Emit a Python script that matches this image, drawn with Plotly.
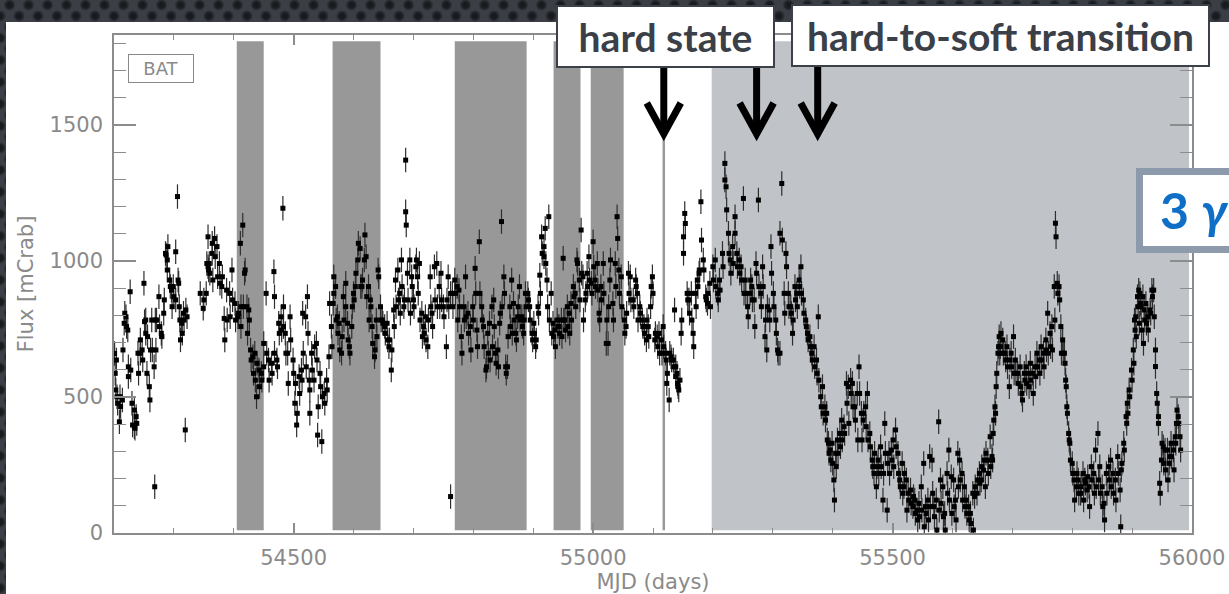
import base64
import plotly.graph_objects as go

# ---------------- Swift/BAT daily light curve (MJD, flux in mCrab) ----------------
lc_2007_2008 = [
    (54201, 660), (54202, 587), (54203, 526), (54204, 636), (54205, 501), (54206, 477),
    (54209, 409), (54210, 501), (54211, 465), (54214, 489), (54215, 673), (54217, 771),
    (54218, 808), (54220, 795), (54221, 759), (54223, 746), (54224, 611), (54224, 575),
    (54227, 887), (54228, 599), (54230, 477), (54231, 397), (54234, 452), (54234, 391),
    (54235, 385), (54237, 428), (54238, 403), (54240, 661), (54241, 587), (54244, 710),
    (54244, 661), (54247, 673), (54248, 636), (54250, 918), (54251, 777), (54253, 783),
    (54253, 734), (54255, 587), (54256, 722), (54259, 538), (54260, 489), (54261, 673),
    (54263, 783), (54264, 673), (54268, 170), (54267, 611), (54269, 783), (54270, 673),
    (54271, 783), (54275, 869), (54276, 759), (54279, 734), (54280, 722), (54283, 808),
    (54284, 857), (54286, 1028), (54287, 1022), (54289, 1004), (54289, 967), (54290, 1053),
    (54293, 930), (54294, 906), (54296, 893), (54297, 832), (54299, 906), (54300, 869),
    (54303, 1034), (54303, 857), (54306, 1237), (54307, 930), (54308, 918), (54309, 832),
    (54310, 783), (54311, 710), (54313, 771), (54314, 734), (54316, 808), (54317, 783),
    (54319, 379), (54320, 820), (54322, 795), (54344, 881), (54349, 826), (54350, 857),
    (54354, 881), (54355, 991), (54357, 1089), (54357, 979), (54358, 967), (54359, 991),
    (54360, 955), (54364, 1028), (54364, 1065), (54365, 930), (54368, 1083), (54369, 1016),
    (54372, 1053), (54373, 942), (54376, 991), (54377, 918), (54380, 906), (54381, 942),
    (54384, 789), (54385, 710), (54388, 893), (54389, 783), (54393, 881), (54394, 795),
    (54397, 967), (54398, 857), (54402, 844), (54403, 783), (54407, 795), (54408, 808),
    (54411, 1065), (54412, 832), (54412, 759), (54415, 1132), (54416, 832), (54418, 955),
    (54419, 967), (54422, 832), (54423, 734), (54425, 820), (54426, 783), (54428, 673),
    (54429, 636), (54432, 648), (54433, 587), (54435, 661), (54436, 562), (54438, 501),
    (54439, 624), (54442, 599), (54443, 538), (54446, 587), (54447, 562), (54450, 697),
    (54450, 611), (54454, 881), (54455, 661), (54458, 636), (54459, 562), (54463, 624),
    (54464, 587), (54467, 961), (54468, 869), (54468, 661), (54472, 636), (54473, 611),
    (54475, 771), (54476, 734), (54479, 795), (54480, 746), (54482, 1194), (54483, 832),
    (54483, 759), (54486, 734), (54487, 661), (54490, 661), (54491, 550), (54494, 795),
    (54495, 710), (54499, 636), (54500, 587), (54502, 477), (54503, 550), (54505, 397),
    (54506, 440), (54509, 575), (54510, 513), (54513, 599), (54514, 562), (54515, 808),
    (54516, 661), (54520, 795), (54521, 611), (54523, 869), (54524, 734), (54526, 562),
    (54527, 526), (54527, 440), (54530, 661), (54531, 599), (54534, 562), (54535, 685),
    (54538, 697), (54539, 636), (54540, 360), (54541, 464), (54544, 587), (54545, 538),
    (54547, 336), (54548, 501), (54551, 513), (54552, 477), (54555, 562), (54556, 526),
    (54559, 648), (54560, 844), (54563, 759), (54564, 685), (54566, 844), (54567, 942),
    (54567, 881), (54570, 906), (54571, 783), (54573, 795), (54574, 734), (54576, 771),
    (54577, 673), (54580, 661), (54581, 722), (54583, 869), (54584, 783), (54587, 918),
    (54587, 832), (54590, 771), (54591, 710), (54593, 685), (54594, 661), (54597, 759),
    (54598, 832), (54600, 881), (54601, 857), (54603, 906), (54604, 955), (54607, 1004),
    (54608, 1065), (54611, 1046), (54612, 906), (54614, 906), (54615, 930), (54618, 1004),
    (54619, 1096), (54621, 1016), (54622, 869), (54625, 906), (54626, 783), (54628, 857),
    (54629, 832), (54631, 759), (54632, 697), (54635, 648), (54636, 673), (54638, 783),
    (54639, 722), (54641, 967), (54642, 942), (54645, 832), (54646, 783), (54648, 783),
    (54649, 771), (54652, 759), (54653, 734), (54656, 771), (54657, 710), (54659, 685),
    (54660, 710), (54663, 599), (54664, 673), (54667, 820), (54668, 759), (54670, 930),
    (54671, 832), (54674, 967), (54675, 857), (54677, 881), (54678, 808), (54680, 1004),
    (54681, 906), (54684, 832), (54685, 857), (54687, 1371), (54687, 1181), (54688, 1132),
    (54690, 955), (54691, 857), (54694, 1004), (54695, 808), (54697, 942), (54698, 906),
]

lc_2008_2009 = [
    (54700, 857), (54701, 832), (54704, 979), (54705, 1004), (54707, 942), (54708, 881),
    (54710, 991), (54711, 783), (54714, 808), (54715, 722), (54717, 759), (54718, 734),
    (54720, 795), (54721, 710), (54724, 685), (54725, 783), (54728, 942), (54729, 832),
    (54731, 808), (54732, 759), (54735, 979), (54736, 857), (54739, 991), (54740, 832),
    (54743, 906), (54744, 832), (54746, 955), (54747, 857), (54750, 832), (54751, 795),
    (54755, 685), (54756, 857), (54758, 942), (54759, 832), (54762, 134), (54762, 881),
    (54765, 881), (54766, 832), (54769, 930), (54770, 881), (54773, 906), (54774, 783),
    (54776, 893), (54777, 832), (54780, 722), (54781, 661), (54784, 832), (54785, 783),
    (54787, 942), (54788, 795), (54791, 808), (54792, 734), (54795, 759), (54796, 673),
    (54799, 832), (54800, 783), (54803, 973), (54804, 881), (54806, 746), (54807, 685),
    (54810, 1071), (54811, 881), (54814, 832), (54815, 783), (54817, 759), (54818, 685),
    (54821, 599), (54822, 611), (54824, 734), (54825, 661), (54827, 771), (54828, 636),
    (54831, 832), (54832, 685), (54834, 857), (54835, 759), (54837, 661), (54838, 624),
    (54841, 673), (54842, 611), (54844, 771), (54845, 808), (54847, 1145), (54848, 832),
    (54851, 942), (54852, 881), (54854, 611), (54855, 587), (54857, 611), (54858, 722),
    (54861, 832), (54862, 759), (54864, 930), (54865, 734), (54867, 844), (54868, 783),
    (54871, 734), (54872, 710), (54874, 795), (54875, 832), (54877, 906), (54878, 783),
    (54881, 795), (54882, 759), (54884, 734), (54885, 783), (54887, 881), (54888, 832),
    (54891, 881), (54892, 857), (54894, 832), (54895, 783), (54898, 734), (54899, 710),
    (54901, 771), (54902, 734), (54904, 685), (54905, 710), (54908, 832), (54909, 808),
    (54911, 948), (54912, 881), (54914, 1089), (54915, 1028), (54918, 1016), (54918, 1053),
    (54920, 1120), (54921, 991), (54923, 930), (54924, 832), (54926, 1163), (54927, 783),
    (54930, 881), (54931, 734), (54933, 771), (54934, 722), (54936, 746), (54937, 685),
    (54940, 783), (54941, 759), (54943, 759), (54944, 734), (54947, 783), (54948, 722),
    (54950, 1010), (54951, 783), (54953, 783), (54954, 746), (54957, 832), (54958, 759),
    (54960, 808), (54961, 734), (54963, 844), (54964, 783), (54967, 906), (54968, 869),
    (54970, 881), (54971, 832), (54973, 1004), (54974, 991), (54977, 930), (54978, 857),
    (54980, 1114), (54981, 955), (54983, 942), (54984, 783), (54987, 857), (54988, 881),
    (54990, 955), (54991, 906), (54993, 1016), (54994, 930), (54997, 918), (54998, 881),
    (55000, 1071), (55001, 979), (55003, 930), (55004, 906), (55007, 991), (55008, 893),
    (55010, 808), (55011, 783), (55013, 906), (55014, 857), (55017, 991), (55018, 881),
    (55022, 697), (55023, 783), (55025, 697), (55026, 832), (55028, 930), (55029, 1004),
    (55033, 844), (55034, 783), (55037, 991), (55038, 906), (55040, 1163), (55041, 1083),
    (55043, 967), (55044, 881), (55047, 942), (55048, 832), (55052, 783), (55053, 734),
    (55055, 759), (55056, 808), (55059, 955), (55060, 881), (55062, 942), (55063, 857),
    (55067, 857), (55068, 832), (55071, 930), (55072, 906), (55074, 881), (55075, 783),
    (55078, 832), (55079, 808), (55082, 783), (55083, 759), (55085, 759), (55086, 734),
    (55089, 710), (55090, 783), (55092, 759), (55093, 722), (55096, 832), (55097, 906),
    (55099, 942), (55100, 881), (55103, 710), (55104, 734), (55107, 722), (55108, 685),
    (55110, 734), (55111, 661), (55114, 710), (55115, 661), (55117, 759), (55118, 685),
    (55121, 661), (55122, 636), (55123, 550), (55124, 587), (55127, 489), (55128, 661),
    (55130, 648), (55131, 636), (55134, 636), (55135, 611), (55136, 820), (55138, 611),
    (55138, 575), (55140, 587), (55141, 550), (55142, 538), (55143, 526), (55145, 562),
    (55147, 734), (55148, 783), (55151, 1089), (55151, 1028), (55153, 1175), (55154, 1138),
    (55157, 881), (55158, 857), (55160, 857), (55161, 808), (55164, 881), (55165, 783),
    (55167, 734), (55168, 685), (55171, 881), (55172, 832), (55174, 930), (55175, 906),
    (55177, 955), (55178, 967), (55180, 1218), (55181, 1077), (55184, 1004), (55185, 967),
    (55188, 869), (55189, 857), (55191, 844), (55192, 881), (55195, 918), (55196, 832),
]

lc_2010 = [
    (55200, 979), (55201, 930), (55204, 1004), (55205, 906), (55208, 881), (55209, 857),
    (55211, 930), (55212, 893), (55216, 1028), (55217, 979), (55220, 1359), (55220, 1298),
    (55222, 1273), (55223, 1188), (55226, 1102), (55227, 1028), (55229, 1004), (55230, 955),
    (55233, 1053), (55234, 991), (55237, 1163), (55237, 1102), (55240, 1028), (55241, 979),
    (55244, 1004), (55245, 955), (55247, 979), (55248, 930), (55251, 1230), (55252, 881),
    (55254, 930), (55255, 881), (55258, 832), (55259, 795), (55262, 881), (55263, 930),
    (55265, 906), (55266, 857), (55269, 857), (55270, 759), (55272, 991), (55273, 955),
    (55276, 1224), (55277, 906), (55280, 881), (55281, 832), (55283, 979), (55284, 906),
    (55287, 722), (55288, 783), (55290, 673), (55291, 832), (55294, 820), (55295, 783),
    (55297, 1053), (55298, 955), (55301, 881), (55302, 832), (55305, 783), (55306, 734),
    (55308, 673), (55309, 661), (55312, 661), (55312, 1102), (55315, 1285), (55316, 1077),
    (55319, 881), (55320, 808), (55322, 1028), (55323, 979), (55326, 881), (55327, 832),
    (55330, 832), (55331, 808), (55333, 734), (55334, 783), (55337, 906), (55338, 857),
    (55340, 881), (55341, 832), (55344, 930), (55345, 906), (55347, 979), (55348, 881),
    (55351, 857), (55352, 808), (55355, 783), (55356, 759), (55358, 734), (55359, 710),
    (55362, 722), (55363, 685), (55365, 661), (55366, 636), (55369, 685), (55370, 611),
    (55373, 636), (55374, 587), (55376, 795), (55377, 562), (55380, 501), (55381, 464),
    (55383, 538), (55384, 440), (55387, 464), (55388, 415), (55390, 440), (55391, 342),
    (55393, 330), (55394, 293), (55396, 305), (55397, 268), (55399, 330), (55400, 256),
    (55402, 195), (55403, 121), (55405, 293), (55406, 244), (55408, 342), (55409, 293),
    (55412, 366), (55413, 317), (55415, 415), (55416, 342), (55419, 391), (55420, 366),
    (55423, 550), (55424, 477), (55426, 538), (55427, 403), (55430, 562), (55431, 513),
    (55433, 550), (55434, 464), (55437, 464), (55438, 415), (55441, 513), (55442, 342),
    (55444, 611), (55445, 513), (55448, 440), (55449, 342), (55451, 415), (55452, 440),
    (55455, 464), (55456, 391), (55458, 513), (55459, 342), (55462, 366), (55463, 317),
    (55466, 268), (55467, 244), (55469, 219), (55470, 293), (55473, 170), (55474, 244),
    (55476, 268), (55477, 219), (55480, 317), (55481, 244), (55484, 121), (55485, 219),
    (55487, 403), (55488, 293), (55491, 84), (55492, 256), (55494, 293), (55495, 219),
    (55498, 305), (55499, 268), (55501, 342), (55502, 244), (55505, 379), (55506, 317),
    (55509, 293), (55510, 219), (55512, 195), (55513, 170), (55516, 256), (55517, 146),
    (55519, 170), (55520, 219), (55523, 195), (55524, 84), (55526, 146), (55527, 121),
    (55530, 158), (55531, 109), (55534, 97), (55535, 134), (55537, 121), (55538, 72),
    (55541, 84), (55542, 48), (55544, 109), (55545, 60), (55548, 170), (55549, 84),
    (55552, 256), (55553, 23), (55555, 97), (55556, 72), (55559, 121), (55560, 48),
    (55562, 281), (55563, 97), (55566, 268), (55567, 146), (55569, 97), (55570, 60),
    (55573, 121), (55574, 11), (55577, 409), (55578, 84), (55580, 195), (55581, 109),
    (55584, 170), (55585, 60), (55587, 72), (55588, 11), (55591, 219), (55592, 146),
    (55594, 305), (55595, 121), (55598, 207), (55599, 72),
]

lc_2011_2012 = [
    (55602, 195), (55603, 97), (55605, 121), (55606, 48), (55609, 293), (55610, 170),
    (55612, 268), (55613, 195), (55616, 219), (55617, 121), (55620, 170), (55621, 97),
    (55623, 121), (55624, 72), (55627, 97), (55628, 48), (55630, 72), (55631, 35),
    (55634, 146), (55635, 11), (55637, 134), (55638, 170), (55641, 146), (55642, 195),
    (55645, 219), (55646, 183), (55648, 195), (55649, 244), (55652, 231), (55653, 268),
    (55655, 170), (55656, 293), (55659, 268), (55660, 219), (55663, 354), (55664, 244),
    (55666, 281), (55667, 268), (55668, 366), (55669, 415), (55671, 464), (55672, 440),
    (55673, 538), (55674, 587), (55676, 661), (55677, 685), (55678, 722), (55679, 661),
    (55680, 685), (55681, 734), (55684, 710), (55685, 661), (55688, 661), (55689, 636),
    (55691, 685), (55692, 611), (55695, 538), (55696, 636), (55698, 661), (55699, 611),
    (55702, 722), (55703, 587), (55705, 636), (55706, 587), (55709, 587), (55710, 550),
    (55713, 611), (55714, 538), (55716, 513), (55717, 489), (55720, 587), (55721, 562),
    (55723, 611), (55724, 550), (55727, 587), (55728, 538), (55730, 624), (55731, 562),
    (55734, 587), (55735, 513), (55738, 611), (55739, 575), (55741, 661), (55742, 611),
    (55745, 636), (55746, 587), (55748, 685), (55749, 636), (55752, 661), (55753, 611),
    (55756, 710), (55757, 673), (55759, 808), (55760, 661), (55763, 734), (55764, 685),
    (55766, 759), (55767, 673), (55770, 906), (55771, 783), (55772, 1139), (55773, 1089),
    (55775, 918), (55776, 881), (55778, 906), (55779, 857), (55781, 759), (55782, 661),
    (55784, 710), (55785, 661), (55787, 661), (55788, 624), (55789, 562), (55790, 538),
    (55791, 464), (55792, 440), (55794, 366), (55795, 342), (55796, 330), (55797, 268),
    (55800, 256), (55801, 219), (55803, 195), (55804, 121), (55807, 170), (55808, 219),
    (55810, 195), (55811, 146), (55814, 146), (55815, 170), (55818, 219), (55819, 121),
    (55821, 195), (55822, 183), (55825, 158), (55826, 207), (55828, 170), (55829, 97),
    (55832, 244), (55833, 195), (55836, 219), (55837, 146), (55839, 305), (55840, 170),
    (55843, 366), (55844, 195), (55846, 244), (55847, 146), (55850, 170), (55851, 97),
    (55853, 109), (55854, 48), (55857, 219), (55858, 146), (55861, 244), (55862, 195),
    (55864, 268), (55865, 170), (55868, 219), (55869, 146), (55872, 195), (55873, 121),
    (55876, 281), (55877, 219), (55880, 158), (55881, 23), (55882, 232), (55883, 256),
    (55886, 330), (55887, 305), (55890, 428), (55891, 403), (55892, 477), (55893, 440),
    (55895, 526), (55896, 501), (55899, 599), (55900, 562), (55902, 673), (55903, 624),
    (55904, 783), (55905, 746), (55906, 795), (55907, 722), (55909, 869), (55910, 832),
    (55911, 893), (55912, 771), (55913, 881), (55914, 844), (55915, 832), (55916, 746),
    (55918, 869), (55919, 697), (55920, 820), (55921, 783), (55923, 844), (55924, 771),
    (55926, 795), (55927, 746), (55930, 820), (55931, 808), (55933, 893), (55934, 869),
    (55936, 893), (55937, 795), (55939, 673), (55939, 612), (55941, 513), (55942, 477),
    (55944, 428), (55944, 403), (55946, 183), (55947, 146), (55949, 268), (55950, 330),
    (55952, 317), (55953, 256), (55955, 305), (55956, 232), (55959, 305), (55960, 195),
    (55962, 256), (55963, 281), (55965, 330), (55966, 281), (55969, 305), (55970, 232),
    (55972, 354), (55973, 330), (55974, 403), (55975, 452), (55977, 428), (55978, 403),
    (55980, 354), (55981, 305),
]

flux_error_mcrab = 45          # typical 1-sigma BAT error
time_bin_half_width = 2.2      # days

# Intervals with no simultaneous coverage (dark bands), hard-state epoch, soft-state window
gap_intervals = [(54405, 54450), (54565, 54645), (54769, 54889), (54934, 54979), (54996, 55051)]
hard_state_mjd = 55118
soft_window = (55198, 55995)
band_flux = (10, 1808)

arrow_mjd = [55118, 55273, 55375]

x_range = [54200, 56000]
y_range = [0, 1831]
x_tick_vals = [54500, 55000, 55500, 56000]
y_tick_vals = [0, 500, 1000, 1500]

# ---------------- figure ----------------
W, H = 1229, 594
ML, MR, MT, MB = 114, 37, 35, 61
PW, PH = W - ML - MR, H - MT - MB


def px_x(px):
    return (px - ML) / PW


def px_y(py):
    return (H - MB - py) / PH


segments = (lc_2007_2008, lc_2008_2009, lc_2010, lc_2011_2012)
mjd = [p[0] for seg in segments for p in seg]
flux = [p[1] for seg in segments for p in seg]

fig = go.Figure()
fig.add_trace(go.Scatter(
    x=mjd, y=flux, mode="markers", name="BAT",
    marker=dict(symbol="square", size=5, color="#000000", line=dict(width=0)),
    error_y=dict(type="constant", value=flux_error_mcrab, thickness=1.2, width=0, color="#2e2e2e"),
    error_x=dict(type="constant", value=time_bin_half_width, thickness=1.5, width=0, color="#111111"),
    showlegend=False, hoverinfo="x+y",
))

# slide background texture
pattern_svg = (
    "<svg xmlns='http://www.w3.org/2000/svg' width='1229' height='594'>"
    "<defs><radialGradient id='g'>"
    "<stop offset='0' stop-color='#15171a'/><stop offset='0.55' stop-color='#1c1f23'/>"
    "<stop offset='1' stop-color='#3b3e44'/></radialGradient>"
    "<pattern id='p' width='19' height='22' patternUnits='userSpaceOnUse'>"
    "<rect width='19' height='22' fill='#3b3e44'/>"
    "<circle cx='9.5' cy='5' r='6' fill='url(#g)'/>"
    "<circle cx='0' cy='16' r='6' fill='url(#g)'/><circle cx='19' cy='16' r='6' fill='url(#g)'/>"
    "</pattern></defs><rect width='1229' height='594' fill='url(#p)'/></svg>"
)
fig.add_layout_image(dict(
    source="data:image/svg+xml;base64," + base64.b64encode(pattern_svg.encode()).decode(),
    xref="paper", yref="paper", x=px_x(0), y=px_y(0), sizex=W / PW, sizey=H / PH,
    xanchor="left", yanchor="top", sizing="stretch", layer="below",
))

shapes = []
# white slide panel
shapes.append(dict(type="rect", xref="paper", yref="paper", x0=px_x(6), x1=px_x(W + 20),
                   y0=px_y(22), y1=px_y(H + 20), fillcolor="white", line=dict(width=0), layer="below"))
# soft-state window
shapes.append(dict(type="rect", xref="x", yref="y", x0=soft_window[0], x1=soft_window[1],
                   y0=band_flux[0], y1=band_flux[1], fillcolor="#c0c3c7", line=dict(width=0), layer="below"))
for a, b in gap_intervals:
    shapes.append(dict(type="rect", xref="x", yref="y", x0=a, x1=b, y0=band_flux[0], y1=band_flux[1],
                       fillcolor="#989898", line=dict(width=0), layer="below"))
shapes.append(dict(type="line", xref="x", yref="y", x0=hard_state_mjd, x1=hard_state_mjd,
                   y0=band_flux[0], y1=band_flux[1], line=dict(color="#9a9a9a", width=2.5), layer="below"))

# down arrows
days_per_px = (x_range[1] - x_range[0]) / PW
for m in arrow_mjd:
    shapes.append(dict(type="line", xref="x", yref="paper", x0=m, x1=m, y0=px_y(67), y1=px_y(128),
                       line=dict(color="black", width=7)))
    hw = 17 * days_per_px
    shapes.append(dict(type="path", xref="x", yref="paper",
                       path=f"M {m - hw},{px_y(103)} L {m},{px_y(134)} L {m + hw},{px_y(103)}",
                       line=dict(color="black", width=7)))

# gamma-ray box frame
shapes.append(dict(type="rect", xref="paper", yref="paper", x0=px_x(1139.5), x1=px_x(W + 30),
                   y0=px_y(249.5), y1=px_y(171.5), fillcolor="white",
                   line=dict(color="#8d9aab", width=7)))

fig.update_layout(shapes=shapes)

label_font = dict(family="Lato, 'Open Sans', sans-serif", size=39, color="#3b3f48")
fig.add_annotation(xref="paper", yref="paper", x=px_x(665.5), y=px_y(36.5), xanchor="center", yanchor="middle",
                   text="<b>hard state</b>", showarrow=False, font=label_font, bgcolor="white",
                   bordercolor="#3b4049", borderwidth=2, borderpad=0, width=215, height=59)
fig.add_annotation(xref="paper", yref="paper", x=px_x(1000.5), y=px_y(35), xanchor="center", yanchor="middle",
                   text="<b>hard-to-soft transition</b>", showarrow=False, font=label_font, bgcolor="white",
                   bordercolor="#3b4049", borderwidth=2, borderpad=0, width=415, height=59, align="center")
fig.add_annotation(xref="paper", yref="paper", x=px_x(1158), y=px_y(210), xanchor="left", yanchor="middle",
                   text="<b>3 <i>γ</i>-ray</b>", showarrow=False,
                   font=dict(family="Lato, sans-serif", size=50, color="#0f6fc6"))
fig.add_annotation(xref="paper", yref="paper", x=px_x(161), y=px_y(68.5), xanchor="center", yanchor="middle",
                   text="BAT", showarrow=False, font=dict(family="DejaVu Sans", size=18, color="#8a8a8a"),
                   bordercolor="#8a8a8a", borderwidth=1, borderpad=0, width=64, height=27, bgcolor="white")

axis_common = dict(showgrid=False, zeroline=False, showline=True, mirror="allticks", automargin=False,
                   linecolor="#8c8c8c", linewidth=1.5, ticks="inside", tickcolor="#8c8c8c", tickwidth=1.5,
                   tickformat="d",
                   tickfont=dict(family="DejaVu Sans", size=21, color="#8a8a8a"))

fig.update_xaxes(range=x_range, tickvals=x_tick_vals, ticklen=10,
                 minor=dict(dtick=100, tick0=54200, ticklen=5, ticks="inside", tickcolor="#8c8c8c", tickwidth=1.2),
                 title=dict(text="MJD (days)", font=dict(family="DejaVu Sans", size=21, color="#8a8a8a"), standoff=2),
                 ticklabelstandoff=5, **axis_common)
fig.update_yaxes(range=y_range, tickvals=y_tick_vals, ticklen=22,
                 minor=dict(dtick=100, tick0=0, ticklen=12, ticks="inside", tickcolor="#8c8c8c", tickwidth=1.2),
                 title=dict(text="Flux [mCrab]", font=dict(family="DejaVu Sans", size=21, color="#8a8a8a"), standoff=10),
                 ticklabelstandoff=5, **axis_common)

fig.update_layout(width=W, height=H, margin=dict(l=ML, r=MR, t=MT, b=MB, pad=0), autosize=False,
                  paper_bgcolor="#33363b", plot_bgcolor="white")

fig.write_html("out.html")
